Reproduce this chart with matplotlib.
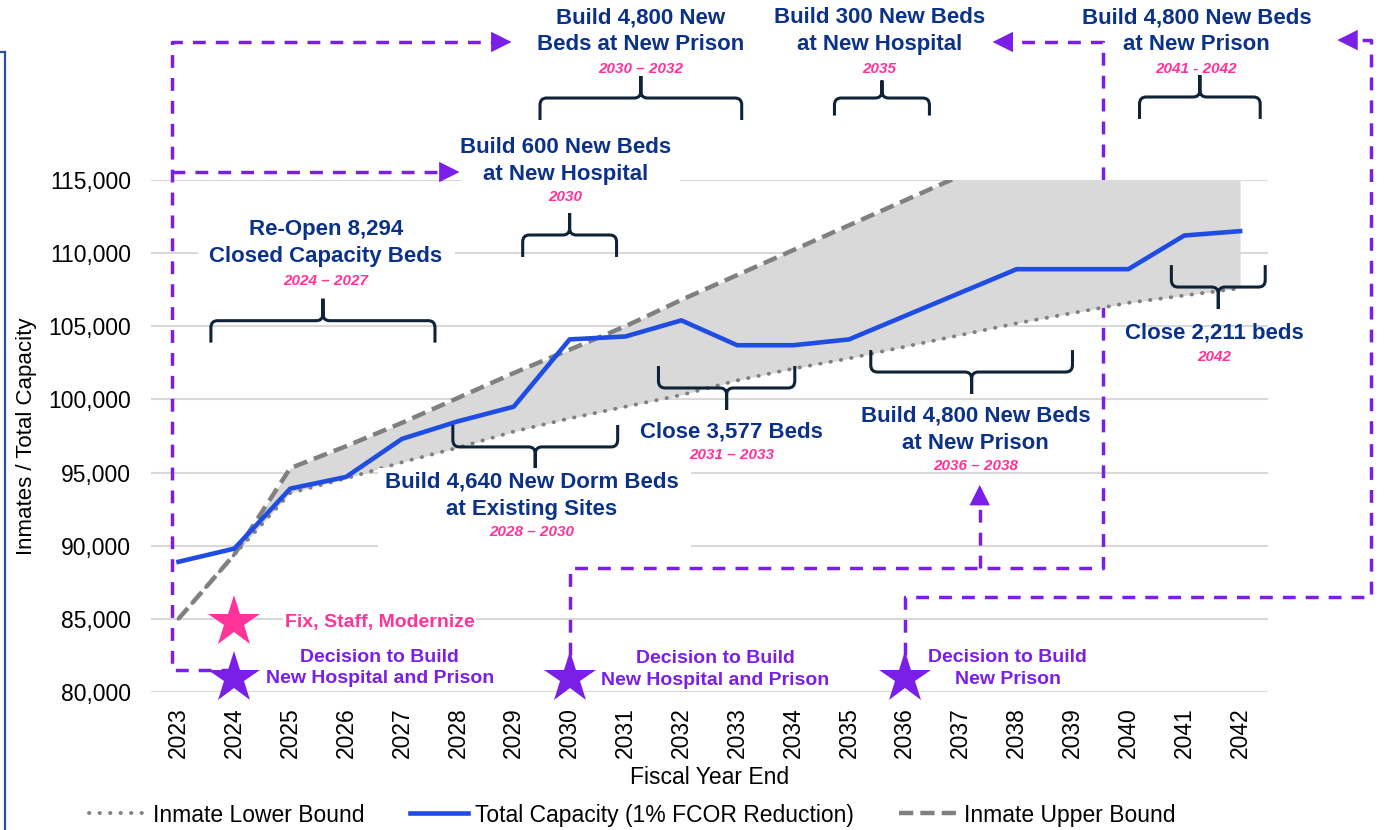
import matplotlib
matplotlib.use('Agg')
import matplotlib.pyplot as plt
from matplotlib.path import Path
from matplotlib.patches import PathPatch, Rectangle
from matplotlib.lines import Line2D

plt.rcParams['font.family'] = ['Liberation Sans', 'DejaVu Sans']

# data
years = list(range(2023, 2043))
capacity = [88900, 89800, 93900, 94700, 97300, 98500, 99500, 104100, 104300, 105400,
            103700, 103700, 104100, 105700, 107300, 108900, 108900, 108900, 111200, 111500]
upper = [85000, 89400, 95300, 96800, 98400, 100100, 101800, 103400, 105000, 106800,
         108500, 110200, 111900, 113600, 115300, 117000, 118700, 120400, 122100, 123800]
lower = [85000, 89400, 93600, 94600, 95700, 96700, 97800, 98700, 99500, 100300,
         101300, 102100, 102800, 103600, 104400, 105200, 105900, 106600, 107100, 107600]
yticks = [80000, 85000, 90000, 95000, 100000, 105000, 110000, 115000]
series_names = ['Inmate Lower Bound', 'Total Capacity (1% FCOR Reduction)', 'Inmate Upper Bound']

navy = '#0b3287'
pink = '#ff3399'
purple = '#7a1ee8'
dark = '#0e2338'
grey = '#808080'

fig = plt.figure(figsize=(13.84, 8.30), dpi=100)
ax = fig.add_axes([0.1088, 0.1663, 0.8074, 0.6169])

ax.fill_between(years, lower, upper, color='#d9d9d9', lw=0, zorder=2)
l_low, = ax.plot(years, lower, color=grey, lw=2.8, ls=(0, (0.1, 2.6)),
                 dash_capstyle='round', zorder=3)
l_cap, = ax.plot(years, capacity, color='#1f4de3', lw=3.3, zorder=3.2)
l_up, = ax.plot(years, upper, color=grey, lw=3.2, ls=(0, (3.2, 1.6)), zorder=3.1)

ax.set_xlim(2022.5, 2042.5)
ax.set_ylim(80000, 115000)
ax.set_xticks(years)
ax.set_xticklabels([str(y) for y in years], rotation=90)
ax.set_yticks(yticks)
ax.set_yticklabels([f'{v:,}' for v in yticks])
ax.tick_params(axis='both', length=0, labelsize=16.5)
ax.tick_params(axis='y', pad=14)
ax.tick_params(axis='x', pad=11)
ax.grid(axis='y', color='#d9d9d9', lw=1.5)
ax.set_axisbelow(True)
for s in ax.spines.values():
    s.set_visible(False)
ax.set_xlabel('Fiscal Year End', fontsize=16.5, labelpad=6)
ax.set_ylabel('Inmates / Total Capacity', fontsize=16, labelpad=8)


def blank(x0, x1, y0, y1):
    # white text-box background
    ax.add_patch(Rectangle((x0, y0), x1 - x0, y1 - y0, fc='white', ec='none',
                           clip_on=False, zorder=5))


def brace(x0, x1, y, up=True, h=1500, r=0.12, ry=480):
    s = 1 if up else -1
    xm = (x0 + x1) / 2
    verts = [(x0, y - s * h), (x0, y - s * ry), (x0, y), (x0 + r, y), (xm - r, y),
             (xm, y), (xm, y + s * ry), (xm, y + s * h),
             (xm, y + s * h), (xm, y + s * ry), (xm, y), (xm + r, y), (x1 - r, y),
             (x1, y), (x1, y - s * ry), (x1, y - s * h)]
    codes = [Path.MOVETO, Path.LINETO, Path.CURVE3, Path.CURVE3, Path.LINETO,
             Path.CURVE3, Path.CURVE3, Path.LINETO,
             Path.MOVETO, Path.LINETO, Path.CURVE3, Path.CURVE3, Path.LINETO,
             Path.CURVE3, Path.CURVE3, Path.LINETO]
    ax.add_patch(PathPatch(Path(verts, codes), fc='none', ec=dark, lw=2.2,
                           clip_on=False, zorder=4, capstyle='butt'))


def note(x, y, title, yrs, yy):
    ax.text(x, y, title, ha='center', va='center', color=navy, fontsize=16,
            fontweight='bold', linespacing=1.38, zorder=6)
    ax.text(x, yy, yrs, ha='center', va='center', color=pink, fontsize=11,
            fontweight='bold', style='italic', zorder=6)


# build / close annotations
blank(2023.35, 2027.95, 107480, 112600)
note(2025.64, 110690, 'Re-Open 8,294\nClosed Capacity Beds', '2024 – 2027', 108090)
brace(2023.58, 2027.59, 105380)
blank(2028.08, 2031.97, 113290, 118070)
note(2029.93, 116290, 'Build 600 New Beds\nat New Hospital', '2030', 113830)
brace(2029.16, 2030.84, 111236)
note(2031.27, 125150, 'Build 4,800 New\nBeds at New Prison', '2030 – 2032', 122580)
brace(2029.47, 2033.08, 120600)
note(2035.55, 125150, 'Build 300 New Beds\nat New Hospital', '2035', 122580)
brace(2034.74, 2036.44, 120600, h=1200)
note(2041.22, 125150, 'Build 4,800 New Beds\nat New Prison', '2041 - 2042', 122580)
brace(2040.20, 2042.36, 120670)
note(2041.54, 104540, 'Close 2,211 beds', '2042', 102900)
brace(2040.77, 2042.45, 107680, up=False)
blank(2026.57, 2032.18, 89800, 95300)
note(2029.32, 93400, 'Build 4,640 New Dorm Beds\nat Existing Sites', '2028 – 2030', 90940)
brace(2027.91, 2030.86, 96750, up=False)
note(2032.90, 97770, 'Close 3,577 Beds', '2031 – 2033', 96200)
brace(2031.59, 2034.03, 100780, up=False)
note(2037.27, 97940, 'Build 4,800 New Beds\nat New Prison', '2036 – 2038', 95450)
brace(2035.39, 2039.00, 101870, up=False)


# decision flows
def flow(xs, ys):
    ax.plot(xs, ys, color=purple, lw=2.5, ls=(0, (3.7, 2.9)), clip_on=False, zorder=1.5)


def head(x, y, dx, dy):
    ax.annotate('', xy=(x, y), xytext=(dx, dy), textcoords='offset points',
                arrowprops=dict(arrowstyle='-|>,head_length=0.7,head_width=0.35',
                                color=purple, lw=0, shrinkA=0, shrinkB=0,
                                mutation_scale=21),
                annotation_clip=False, zorder=5.5)


flow([2024, 2022.88, 2022.88, 2028.75], [81500, 81500, 124430, 124430])
head(2028.96, 124430, -12, 0)
flow([2022.88, 2027.8], [115540, 115540])
head(2028.03, 115540, -12, 0)
flow([2030, 2030, 2039.54, 2039.54, 2037.8], [80960, 88480, 88480, 124430, 124430])
head(2037.57, 124430, 12, 0)
flow([2037.34, 2037.34], [88480, 93800])
head(2037.34, 94150, 0, -12)
flow([2036, 2036, 2044.35, 2044.35, 2043.95], [80960, 86490, 86490, 124560, 124560])
head(2043.74, 124560, 12, 0)

# stars
ax.plot([2024], [84785], marker='*', ms=39, color=pink, mew=0, clip_on=False, zorder=7)
ax.plot([2024, 2030, 2036], [80960] * 3, ls='none', marker='*', ms=39, color=purple,
        mew=0, clip_on=False, zorder=7)
sk = dict(ha='center', va='center', fontsize=14, fontweight='bold', zorder=6)
ax.text(2026.60, 84716, 'Fix, Staff, Modernize', color=pink,
        bbox=dict(boxstyle='square,pad=0.1', fc='white', ec='none'), **sk)
ax.text(2026.60, 81640, 'Decision to Build\nNew Hospital and Prison', color=purple,
        linespacing=1.38, **sk)
ax.text(2032.61, 81540, 'Decision to Build\nNew Hospital and Prison', color=purple,
        linespacing=1.38, **sk)
ax.text(2037.84, 81600, 'Decision to Build\nNew Prison', color=purple,
        linespacing=1.38, **sk)

fig.legend([l_low, l_cap, l_up], series_names, loc='center', ncol=3, frameon=False,
           bbox_to_anchor=(632 / 1384, 15 / 830), fontsize=16.5, handlelength=2.5,
           handletextpad=0.3, columnspacing=2.0)

# slide border on the left
fig.add_artist(Line2D([5 / 1384, 5 / 1384], [1 - 52 / 830, 0], color='#2b4fa0', lw=1.6))
fig.add_artist(Line2D([0, 5 / 1384], [1 - 52 / 830, 1 - 52 / 830], color='#2b4fa0', lw=1.6))

fig.savefig('out.png', dpi=100)
